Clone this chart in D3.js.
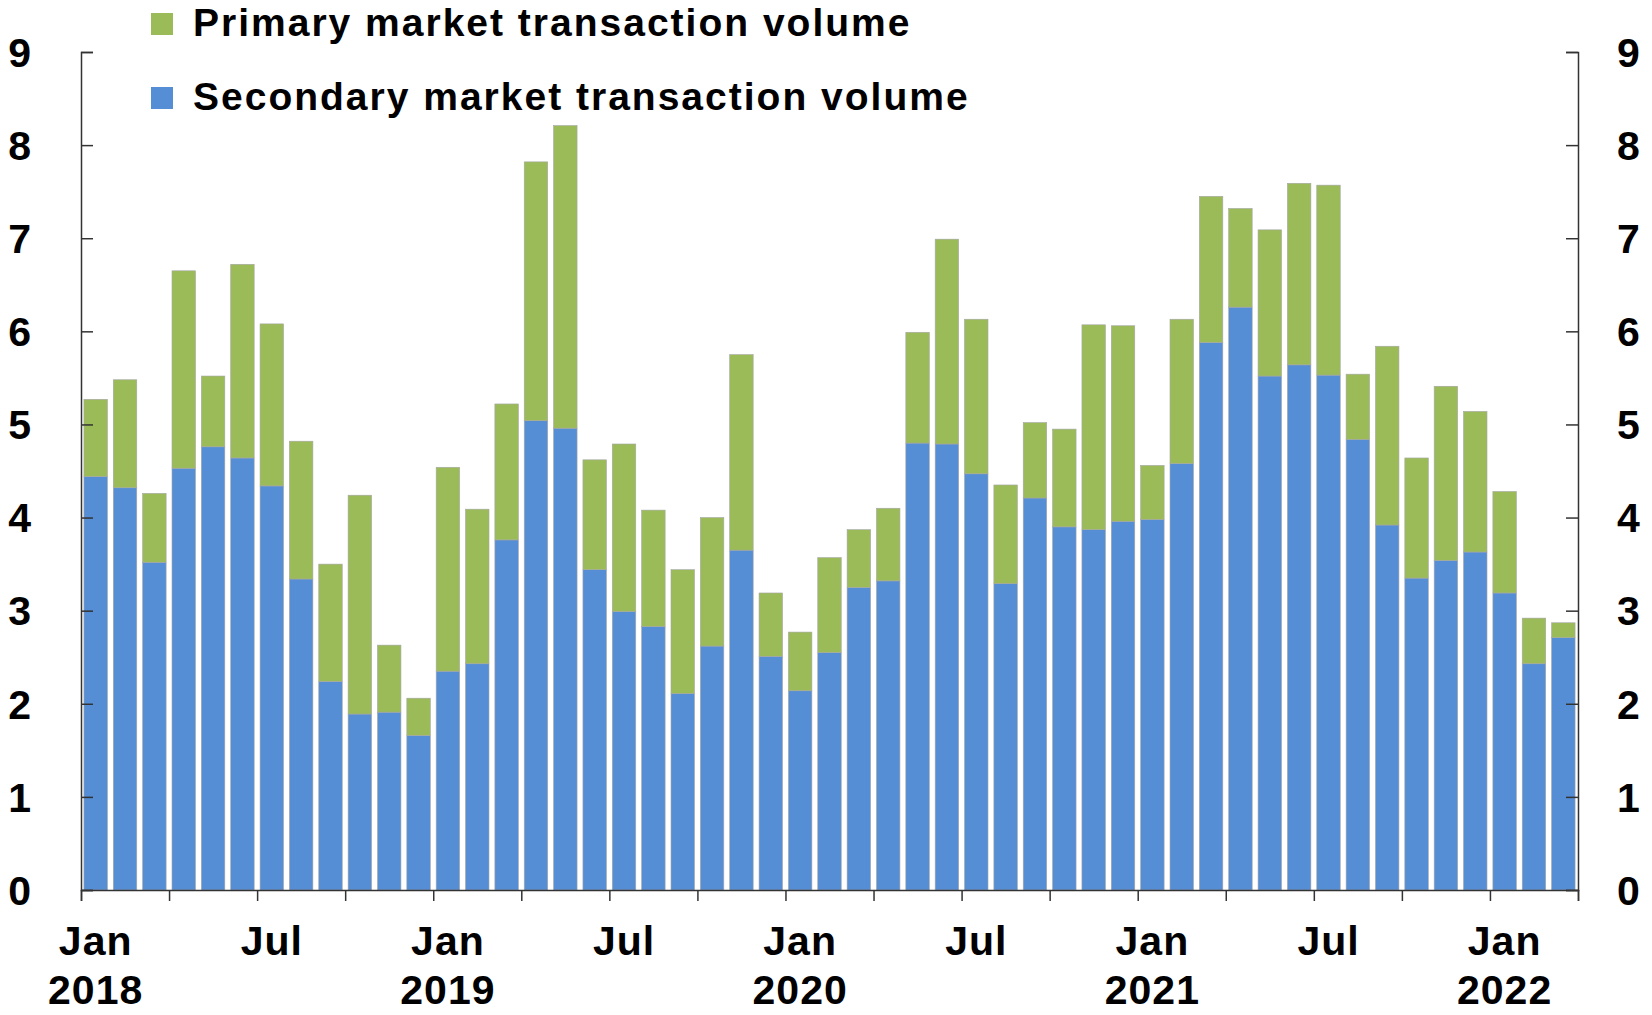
<!DOCTYPE html>
<html>
<head>
<meta charset="utf-8">
<script src="https://cdn.jsdelivr.net/npm/d3@7"></script>
<style>
  html, body { margin: 0; padding: 0; background: #fff; }
  text { font-family: "Liberation Sans", Arial, sans-serif; font-weight: bold; fill: #000; }
</style>
</head>
<body>
<div id="chart"></div>
<script>
// monthly, Jan 2018 .. Mar 2022
const months = d3.range(51).map(i => new Date(2018, i, 1));

const secondary = [
  4.44, 4.32, 3.52, 4.53, 4.76, 4.64, 4.34, 3.34, 2.24, 1.89, 1.91, 1.66,
  2.35, 2.43, 3.76, 5.04, 4.96, 3.44, 2.99, 2.83, 2.11, 2.62, 3.65, 2.51,
  2.14, 2.55, 3.25, 3.32, 4.80, 4.79, 4.47, 3.29, 4.21, 3.90, 3.87, 3.96,
  3.98, 4.58, 5.88, 6.26, 5.52, 5.64, 5.53, 4.84, 3.92, 3.35, 3.54, 3.63,
  3.19, 2.43, 2.71
];

const primary = [
  0.83, 1.16, 0.74, 2.12, 0.76, 2.08, 1.74, 1.48, 1.26, 2.35, 0.72, 0.40,
  2.19, 1.66, 1.46, 2.78, 3.25, 1.18, 1.80, 1.25, 1.33, 1.38, 2.10, 0.68,
  0.63, 1.02, 0.62, 0.78, 1.19, 2.20, 1.66, 1.06, 0.81, 1.05, 2.20, 2.10,
  0.58, 1.55, 1.57, 1.06, 1.57, 1.95, 2.04, 0.70, 1.92, 1.29, 1.87, 1.51,
  1.09, 0.49, 0.16
];

const seriesNames = ["Primary market transaction volume", "Secondary market transaction volume"];
const yTicks = [0, 1, 2, 3, 4, 5, 6, 7, 8, 9];

const colors = { secondary: "#558ED5", primary: "#9BBB59" };

const W = 1652, H = 1015;
const plot = { left: 81, right: 1578, top: 52, bottom: 890 };

const rows = months.map((m, i) => ({ i, month: m, secondary: secondary[i], primary: primary[i] }));

const svg = d3.select("#chart").append("svg")
  .attr("width", W)
  .attr("height", H);

const x = d3.scaleBand()
  .domain(rows.map(d => d.i))
  .range([plot.left, plot.right])
  .paddingInner(0.2)
  .paddingOuter(0.1);

// month boundaries for the tick marks
const xEdge = d3.scaleLinear().domain([0, months.length]).range([plot.left, plot.right]);

const y = d3.scaleLinear().domain([0, 9]).range([plot.bottom, plot.top]);

const stack = d3.stack().keys(["secondary", "primary"]);
const layers = stack(rows);

svg.append("g")
  .selectAll("g")
  .data(layers)
  .join("g")
  .attr("fill", d => colors[d.key])
  .selectAll("rect")
  .data(d => d)
  .join("rect")
  .attr("x", d => x(d.data.i))
  .attr("width", x.bandwidth())
  .attr("y", d => y(d[1]))
  .attr("height", d => y(d[0]) - y(d[1]))
  .attr("stroke", "#a6a6a6")
  .attr("stroke-width", 0.6);

// axes
const axisColor = "#333";

const yLeft = svg.append("g")
  .attr("transform", `translate(${plot.left},0)`)
  .call(d3.axisRight(y).tickValues(yTicks).tickSize(12).tickFormat(""));
const yRight = svg.append("g")
  .attr("transform", `translate(${plot.right},0)`)
  .call(d3.axisLeft(y).tickValues(yTicks).tickSize(12).tickFormat(""));

[yLeft, yRight].forEach(g => {
  g.select(".domain").attr("stroke", axisColor).attr("stroke-width", 1.5);
  g.selectAll(".tick line").attr("stroke", axisColor).attr("stroke-width", 1.5);
});

svg.append("g")
  .selectAll("text")
  .data(yTicks)
  .join("text")
  .attr("x", 31)
  .attr("y", d => y(d))
  .attr("dy", "0.36em")
  .attr("text-anchor", "end")
  .style("font-size", "41px")
  .text(d => d);

svg.append("g")
  .selectAll("text")
  .data(yTicks)
  .join("text")
  .attr("x", 1617)
  .attr("y", d => y(d))
  .attr("dy", "0.36em")
  .attr("text-anchor", "start")
  .style("font-size", "41px")
  .text(d => d);

// x axis, ticks every quarter, labels every half year
const xAxis = svg.append("g")
  .attr("transform", `translate(0,${plot.bottom})`)
  .call(d3.axisBottom(xEdge).tickValues(d3.range(0, months.length + 1, 3)).tickSize(11).tickFormat(""));
xAxis.select(".domain").attr("stroke", axisColor).attr("stroke-width", 1.5);
xAxis.selectAll(".tick line").attr("stroke", axisColor).attr("stroke-width", 1.5);

const labelled = rows.filter(d => d.month.getMonth() % 6 === 0);
const fmtMonth = d3.timeFormat("%b");

const xl = svg.append("g")
  .selectAll("text")
  .data(labelled)
  .join("text")
  .attr("text-anchor", "middle")
  .style("font-size", "41px")
  .style("letter-spacing", "1px");

xl.append("tspan")
  .attr("x", d => x(d.i) + x.bandwidth() / 2)
  .attr("y", 955)
  .text(d => fmtMonth(d.month));

xl.filter(d => d.month.getMonth() === 0)
  .append("tspan")
  .attr("x", d => x(d.i) + x.bandwidth() / 2)
  .attr("y", 1004)
  .text(d => d.month.getFullYear());

// legend
const legend = svg.append("g")
  .selectAll("g")
  .data([
    { name: seriesNames[0], color: colors.primary },
    { name: seriesNames[1], color: colors.secondary }
  ])
  .join("g")
  .attr("transform", (d, i) => `translate(151,${13 + i * 74})`);

legend.append("rect")
  .attr("width", 22)
  .attr("height", 22)
  .attr("fill", d => d.color);

legend.append("text")
  .attr("x", 42)
  .attr("y", 23)
  .style("font-size", "39px")
  .style("letter-spacing", "2px")
  .text(d => d.name);
</script>
</body>
</html>
